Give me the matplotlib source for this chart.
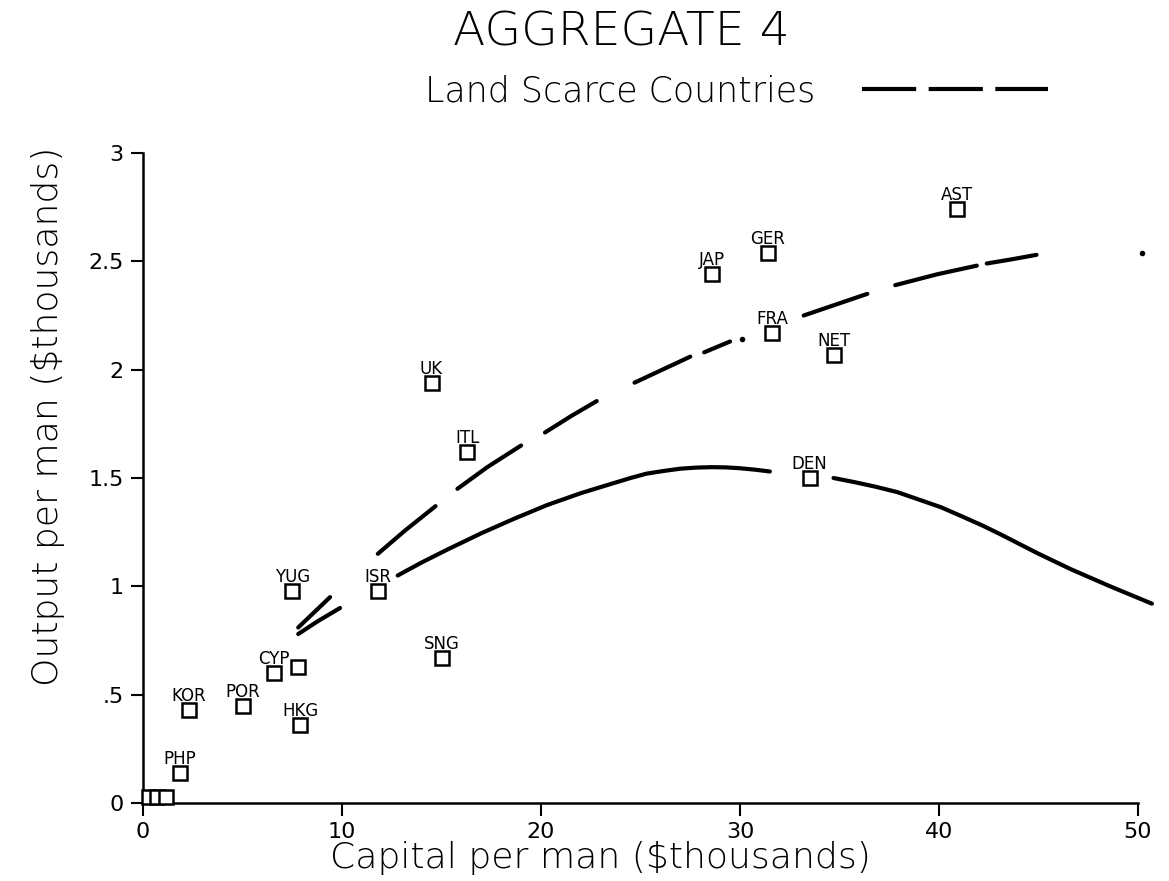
import numpy as np
import matplotlib
matplotlib.use("Agg")
import matplotlib.pyplot as plt
from matplotlib.lines import Line2D

# ---- data ----
countries = ["", "", "", "PHP", "KOR", "POR", "CYP", "", "HKG", "YUG", "ISR",
             "SNG", "UK", "ITL", "JAP", "GER", "FRA", "NET", "DEN", "AST"]
capital = [0.3, 0.72, 1.14, 1.86, 2.3, 5.0, 6.6, 7.8, 7.9, 7.5, 11.8,
           15.0, 14.5, 16.3, 28.6, 31.4, 31.6, 34.7, 33.5, 40.9]
output = [0.03, 0.03, 0.03, 0.14, 0.43, 0.45, 0.60, 0.63, 0.36, 0.98, 0.98,
          0.67, 1.94, 1.62, 2.44, 2.54, 2.17, 2.07, 1.50, 2.74]

# fitted curve (all countries), solid; gaps where it is broken in the picture
fit_all_x = [7.8, 8.8, 9.9, np.nan, 12.8, 14.0, 15.3, 17.0, 18.6, 20.3, 22.0,
             23.6, 24.5, 25.3, 26.2, 27.0, 27.8, 28.6, 29.3, 30.0, 30.8, 31.5,
             np.nan, 34.7, 35.8, 36.8, 37.9, 39.0, 40.1, 41.1, 42.2, 43.2,
             44.9, 46.6, 48.6, 50.7]
fit_all_y = [0.78, 0.84, 0.90, np.nan, 1.05, 1.11, 1.17, 1.245, 1.31, 1.375, 1.43,
             1.475, 1.50, 1.52, 1.533, 1.543, 1.548, 1.55, 1.549, 1.545, 1.538, 1.53,
             np.nan, 1.50, 1.48, 1.46, 1.435, 1.40, 1.365, 1.325, 1.28, 1.235,
             1.155, 1.08, 1.00, 0.92]

# land scarce countries fit, long-dashed as drawn
fit_ls_x = [7.8, 8.6, 9.4, np.nan, 11.8, 13.2, 14.7, np.nan, 15.8, 17.3, 19.0,
            np.nan, 20.2, 21.5, 22.8, np.nan, 24.7, 26.1, 27.5, np.nan,
            28.2, 29.5, np.nan, 33.2, 34.8, 36.4, np.nan, 37.8, 39.9, 41.9,
            np.nan, 42.4, 43.7, 44.9]
fit_ls_y = [0.81, 0.88, 0.95, np.nan, 1.15, 1.26, 1.37, np.nan, 1.45, 1.55, 1.65,
            np.nan, 1.71, 1.785, 1.855, np.nan, 1.94, 2.00, 2.06, np.nan,
            2.08, 2.13, np.nan, 2.25, 2.30, 2.35, np.nan, 2.39, 2.44, 2.48,
            np.nan, 2.49, 2.51, 2.53]
dots_x = [30.1, 50.2]
dots_y = [2.14, 2.54]

xticks = [0, 10, 20, 30, 40, 50]
xtick_labels = ["0", "10", "20", "30", "40", "50"]
yticks = [0, 0.5, 1, 1.5, 2, 2.5, 3]
ytick_labels = ["0", ".5", "1", "1.5", "2", "2.5", "3"]

title = "AGGREGATE 4"
legend_label = "Land Scarce Countries"
xlabel = "Capital per man ($thousands)"
ylabel = "Output per man ($thousands)"

# ---- figure ----
W, H = 1169, 881
fig = plt.figure(figsize=(W / 100, H / 100), dpi=100)
ax = fig.add_axes([143 / W, 1 - 803 / H, (1138 - 143) / W, (803 - 153) / H])

ax.plot(fit_all_x, fit_all_y, color="black", lw=3, solid_capstyle="round",
        solid_joinstyle="round", clip_on=False)
ax.plot(fit_ls_x, fit_ls_y, color="black", lw=3, solid_capstyle="round",
        solid_joinstyle="round", clip_on=False)
ax.plot(dots_x, dots_y, "o", color="black", ms=3, clip_on=False)

ax.plot(capital, output, "s", ms=10, mfc="white", mec="black", mew=1.8,
        ls="none", clip_on=False, zorder=3)
for c, x, y in zip(countries, capital, output):
    if c:
        ax.annotate(c, (x, y), xytext=(0, 3.5), textcoords="offset points",
                    ha="center", va="bottom", fontsize=12, zorder=4)

ax.set_xlim(0, 50)
ax.set_ylim(0, 3)
ax.set_xticks(xticks)
ax.set_xticklabels(xtick_labels)
ax.set_yticks(yticks)
ax.set_yticklabels(ytick_labels)
for s in ["top", "right"]:
    ax.spines[s].set_visible(False)
for s in ["left", "bottom"]:
    ax.spines[s].set_linewidth(1.8)
ax.tick_params(axis="both", direction="out", length=9, width=1.5,
               labelsize=16, pad=5)
ax.set_xlabel(xlabel, fontsize=26, fontweight="light")
ax.xaxis.set_label_coords((600 - 143) / (1138 - 143), -(858 - 803) / 650)
ax.xaxis.label.set_va("center")
ax.set_ylabel(ylabel, fontsize=26, fontweight="light")
ax.yaxis.set_label_coords(-(143 - 48) / (1138 - 143), (803 - 416) / 650)
ax.yaxis.label.set_va("center")

fig.text(621 / W, 1 - 33 / H, title, ha="center", va="center", fontsize=34,
         fontweight="light")
fig.text(425 / W, 1 - 91 / H, legend_label, ha="left", va="center",
         fontsize=25, fontweight="light")
fig.add_artist(Line2D([862 / W, 1048 / W], [1 - 89 / H, 1 - 89 / H],
                      transform=fig.transFigure, color="black", lw=3,
                      dashes=(13, 3)))

fig.savefig("out.png", dpi=100)
